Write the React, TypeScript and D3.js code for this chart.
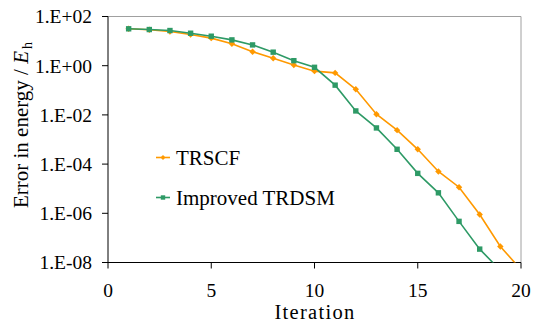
import React from "react";
import * as d3 from "d3";

const iterationsTRSCF = [1, 2, 3, 4, 5, 6, 7, 8, 9, 10, 11, 12, 13, 14, 15, 16, 17, 18, 19, 20];
const errorTRSCF = [31.6, 28.8, 24.5, 18.6, 13.2, 7.8, 3.7, 2.0, 1.07, 0.6, 0.51, 0.11, 1.07e-2, 2.4e-3, 4.0e-4, 5.0e-5, 1.15e-5, 8.9e-7, 4.5e-8, 5.1e-9];
const iterationsTRDSM = [1, 2, 3, 4, 5, 6, 7, 8, 9, 10, 11, 12, 13, 14, 15, 16, 17, 18, 19];
const errorTRDSM = [31.6, 29.5, 26.9, 20.9, 15.8, 11.2, 7.0, 3.55, 1.6, 0.86, 0.162, 1.45e-2, 2.95e-3, 4.0e-4, 4.2e-5, 6.8e-6, 4.7e-7, 3.5e-8, 4.8e-9];
const xTicks = [0, 5, 10, 15, 20];
const yTicks = [1e2, 1, 1e-2, 1e-4, 1e-6, 1e-8];
const yTickLabels = ["1.E+02", "1.E+00", "1.E-02", "1.E-04", "1.E-06", "1.E-08"];
const seriesNames = ["TRSCF", "Improved TRDSM"];

const ORANGE = "#FF9900";
const GREEN = "#2E9A66";
const FONT = "Liberation Serif";
const ts = { fontFamily: FONT };

export default function App() {
  const W = 533, H = 322;
  const left = 108, right = 521, top = 16.5, bottom = 262.5;
  const x = d3.scaleLinear().domain([0, 20]).range([left, right]);
  const y = d3.scaleLog().domain([1e-8, 1e2]).range([bottom, top]);
  const line = d3.line<[number, number]>().x(d => x(d[0])).y(d => y(d[1]));
  const orangePts: [number, number][] = iterationsTRSCF.map((it, i) => [it, errorTRSCF[i]]);
  const greenPts: [number, number][] = iterationsTRDSM.map((it, i) => [it, errorTRDSM[i]]);
  const diamond = (cx: number, cy: number, r: number) =>
    `M${cx},${cy - r}L${cx + r},${cy}L${cx},${cy + r}L${cx - r},${cy}Z`;

  return (
    <svg width={W} height={H} style={{ position: "absolute", left: 0, top: 0, background: "#fff", fontFamily: FONT }}>
      <defs>
        <clipPath id="plot">
          <rect x={left} y={top - 5} width={right - left + 5} height={bottom - top + 5} />
        </clipPath>
      </defs>
      {/* frame */}
      <line x1={left} x2={right} y1={top} y2={top} stroke="#a0a0a0" strokeWidth={1} />
      <line x1={right} x2={right} y1={top} y2={bottom} stroke="#a0a0a0" strokeWidth={1} />
      {/* axes */}
      <line x1={left} x2={left} y1={top} y2={bottom} stroke="#000" strokeWidth={1} />
      <line x1={left} x2={right} y1={bottom} y2={bottom} stroke="#000" strokeWidth={1} />
      {yTicks.map((t, i) => (
        <g key={i}>
          <line x1={left - 6} x2={left} y1={y(t)} y2={y(t)} stroke="#000" />
          <text x={92} y={y(t)} dy="0.35em" textAnchor="end" fontSize={19.5} style={ts}>{yTickLabels[i]}</text>
        </g>
      ))}
      {xTicks.map((t, i) => (
        <g key={i}>
          <line x1={x(t)} x2={x(t)} y1={bottom} y2={bottom + 6} stroke="#000" />
          <text x={x(t)} y={297} textAnchor="middle" fontSize={19.5} style={ts}>{t}</text>
        </g>
      ))}
      <text x={315} y={318.5} textAnchor="middle" fontSize={20.5} letterSpacing={1.3} style={ts}>Iteration</text>
      <text transform="translate(28,125) rotate(-90)" textAnchor="middle" fontSize={21} style={ts}>
        Error in energy / <tspan fontStyle="italic">E</tspan>
        <tspan fontSize={14} dy={4} dx={2}>h</tspan>
      </text>
      {/* series */}
      <g clipPath="url(#plot)">
        <path d={line(orangePts) || ""} fill="none" stroke={ORANGE} strokeWidth={1.6} />
        {orangePts.map((p, i) => (
          <path key={i} d={diamond(x(p[0]), y(p[1]), 3.2)} fill={ORANGE} />
        ))}
        <path d={line(greenPts) || ""} fill="none" stroke={GREEN} strokeWidth={1.6} />
        {greenPts.map((p, i) => (
          <rect key={i} x={x(p[0]) - 2.7} y={y(p[1]) - 2.7} width={5.4} height={5.4} fill={GREEN} />
        ))}
      </g>
      {/* legend */}
      <g>
        <line x1={156} x2={170} y1={157.5} y2={157.5} stroke={ORANGE} strokeWidth={1.6} />
        <path d={diamond(163, 157.5, 2.5)} fill={ORANGE} />
        <text x={176} y={165} fontSize={21} style={ts}>{seriesNames[0]}</text>
        <line x1={156} x2={170} y1={197.5} y2={197.5} stroke={GREEN} strokeWidth={1.6} />
        <rect x={160.8} y={195.3} width={4.4} height={4.4} fill={GREEN} />
        <text x={176} y={205} fontSize={21} style={ts}>{seriesNames[1]}</text>
      </g>
    </svg>
  );
}
